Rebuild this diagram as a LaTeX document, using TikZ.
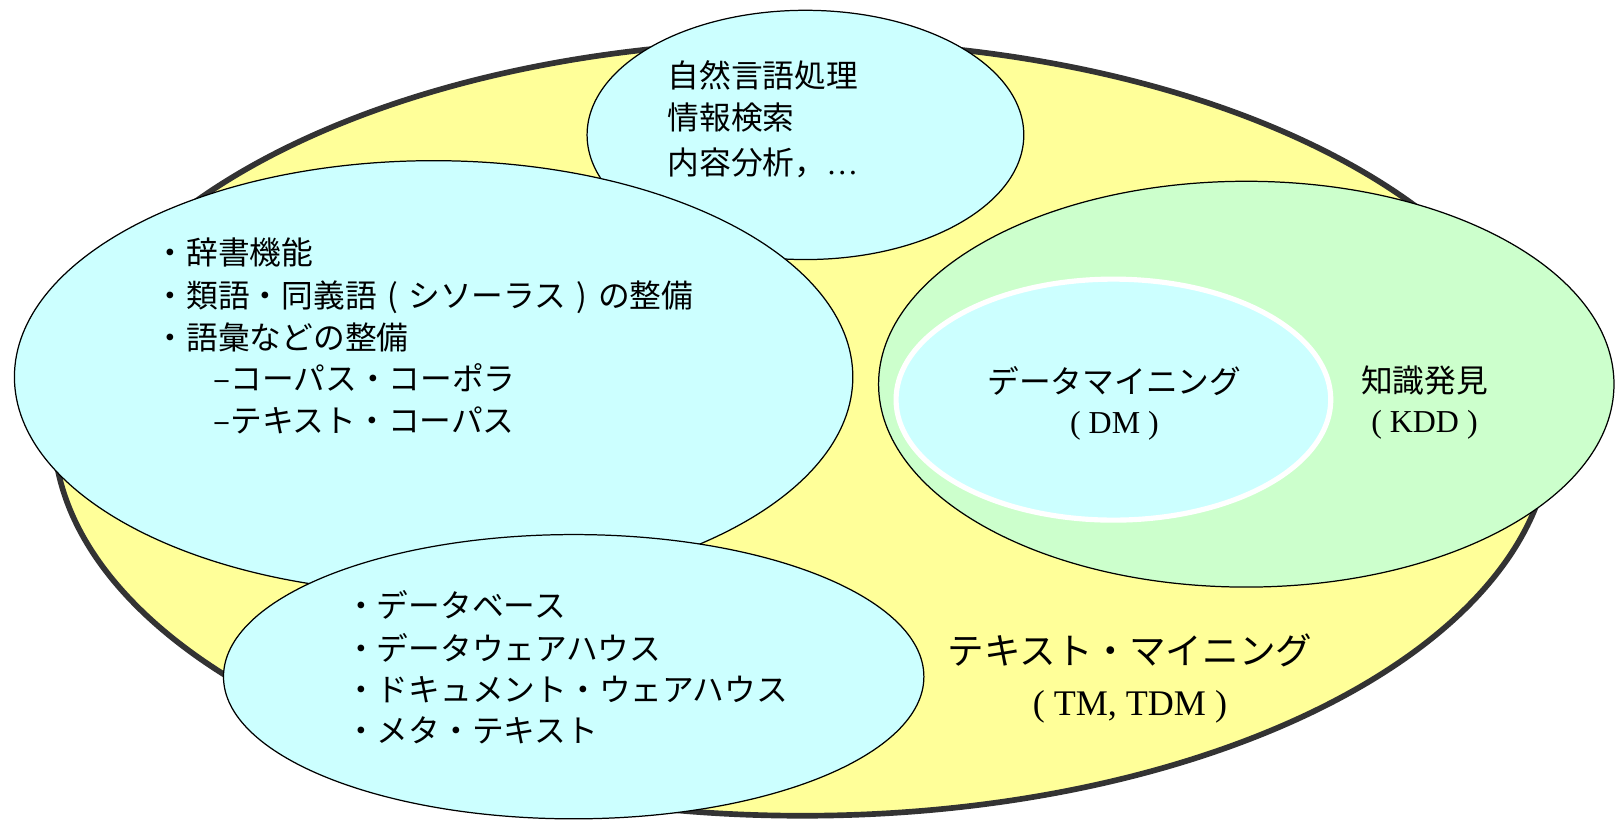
\documentclass[tikz,border=0pt]{standalone}
\usepackage{fontspec}
\setmainfont{Liberation Serif}
\newfontfamily\jp{Noto Sans CJK JP}
\usetikzlibrary{shapes.geometric}
\definecolor{cyanfill}{HTML}{CCFFFF}
\definecolor{greenfill}{HTML}{CCFFCC}
\definecolor{yellowfill}{HTML}{FFFF99}
\definecolor{darkrim}{HTML}{333333}
\newcommand\jlp{\makebox[1em]{(}}
\newcommand\jrp{\makebox[1em]{)}}
\tikzset{
  blob/.style={ellipse, inner sep=0pt, outer sep=0pt, draw=black, line width=1.2pt},
  jptext/.style={inner sep=0pt, font=\jp\fontsize{30.8}{36}\selectfont},
  jpbig/.style={inner sep=0pt, font=\jp\fontsize{35.5}{40}\selectfont},
  latn/.style={inner sep=0pt, font=\fontsize{31}{36}\selectfont},
  latnbig/.style={inner sep=0pt, font=\fontsize{35}{40}\selectfont},
}
\begin{document}
\begin{tikzpicture}[x=1pt,y=-1pt]
\useasboundingbox (0,0) rectangle (1568,797);
% outer text-mining ellipse with dark rim
\node[ellipse, inner sep=0pt, outer sep=0pt, fill=yellowfill, draw=darkrim, line width=5.5pt, minimum width=1454pt, minimum height=752pt] (tm) at (779,416) {};
% NLP ellipse
\node[blob, fill=cyanfill, minimum width=424pt, minimum height=242pt] (nlp) at (782,131) {};
% dictionary ellipse
\node[blob, fill=cyanfill, minimum width=814pt, minimum height=420pt] (dict) at (421,366) {};
% database ellipse
\node[blob, fill=cyanfill, minimum width=680pt, minimum height=276pt] (db) at (557,657) {};
% KDD ellipse
\node[blob, fill=greenfill, minimum width=714pt, minimum height=394pt] (kdd) at (1210,373) {};
% DM ellipse
\node[ellipse, inner sep=0pt, fill=cyanfill, draw=white, line width=5pt, minimum width=422pt, minimum height=234pt] (dm) at (1081,388) {};

% NLP text
\node[jptext, anchor=base west] (nlp1) at (648,85) {自然言語処理};
\node[jptext, anchor=base west] (nlp2) at (648,126) {情報検索};
\node[jptext, anchor=base west] (nlp3) at (648,169) {内容分析，{\rmfamily\fontsize{31}{36}\selectfont …}};

% dictionary text
\node[jptext, anchor=base west] (d1) at (150,257) {・辞書機能};
\node[jptext, anchor=base west] (d2) at (150,299) {・類語・同義語\jlp シソーラス\jrp の整備};
\node[jptext, anchor=base west] (d3) at (150,339) {・語彙などの整備};
\node[jptext, anchor=base west] (d4) at (207,379) {–コーパス・コーポラ};
\node[jptext, anchor=base west] (d5) at (207,420) {–テキスト・コーパス};

% database text
\node[jptext, anchor=base west] (b1) at (335,600) {・データベース};
\node[jptext, anchor=base west] (b2) at (335,641) {・データウェアハウス};
\node[jptext, anchor=base west] (b3) at (335,681) {・ドキュメント・ウェアハウス};
\node[jptext, anchor=base west] (b4) at (335,721) {・メタ・テキスト};

% DM text
\node[jptext, anchor=base] (dm1) at (1082,382) {データマイニング};
\node[latn, anchor=base] (dm2) at (1082,421) {( DM )};

% KDD text
\node[jptext, anchor=base] (k1) at (1383,381) {知識発見};
\node[latn, anchor=base] (k2) at (1383,420) {( KDD )};

% TM text
\node[jpbig, anchor=base] (t1) at (1097,645) {テキスト・マイニング};
\node[latnbig, anchor=base] (t2) at (1097,695) {( TM, TDM )};
\end{tikzpicture}
\end{document}
